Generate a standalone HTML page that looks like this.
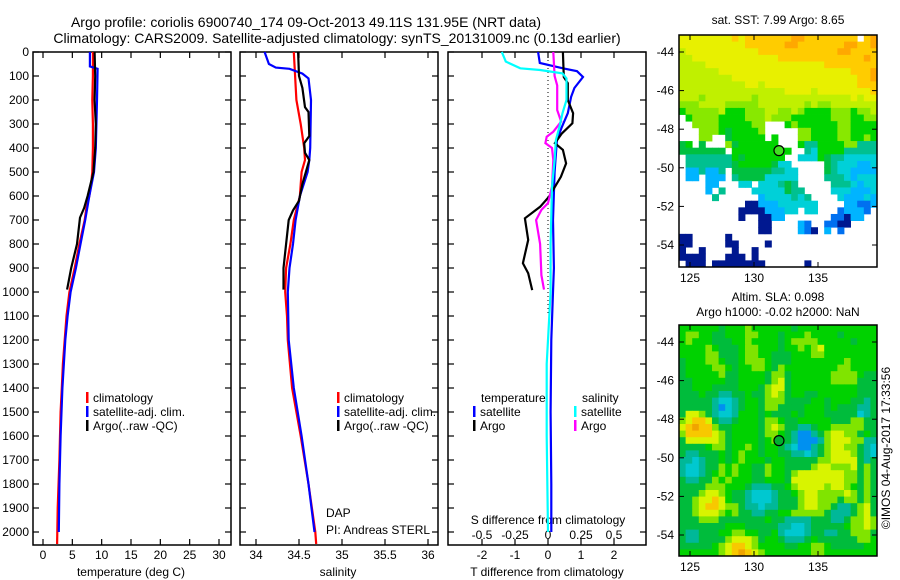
<!DOCTYPE html>
<html><head><meta charset="utf-8">
<style>
html,body{margin:0;padding:0;background:#fff;}
svg{display:block;font-family:"Liberation Sans",sans-serif;}
</style></head>
<body>
<svg id="fig" width="900" height="580" viewBox="0 0 900 580" xmlns="http://www.w3.org/2000/svg">
<text x="306" y="27" font-size="14" text-anchor="middle">Argo profile: coriolis 6900740_174 09-Oct-2013 49.11S 131.95E (NRT data)</text>
<text x="337" y="43" font-size="14" text-anchor="middle">Climatology: CARS2009. Satellite-adjusted climatology: synTS_20131009.nc (0.13d earlier)</text>
<text x="131" y="576" font-size="12" text-anchor="middle">temperature (deg C)</text>
<text x="338" y="576" font-size="12" text-anchor="middle">salinity</text>
<text x="547" y="576" font-size="12" text-anchor="middle">T difference from climatology</text>
<text x="548" y="524" font-size="12" text-anchor="middle">S difference from climatology</text>
<text x="326" y="517" font-size="12">DAP</text>
<text x="326" y="534" font-size="12">PI: Andreas STERL</text>
<text x="778" y="24" font-size="12" text-anchor="middle">sat. SST: 7.99 Argo: 8.65</text>
<text x="778" y="301" font-size="12" text-anchor="middle">Altim. SLA: 0.098</text>
<text x="778" y="316" font-size="12" text-anchor="middle">Argo h1000: -0.02 h2000: NaN</text>
<text x="0" y="0" font-size="12" text-anchor="middle" transform="translate(890,448) rotate(-90)">©IMOS 04-Aug-2017 17:33:56</text>
<g id="plots"></g>
</svg>
<script>
// ---------- data ----------
const depthTicks = [0,100,200,300,400,500,600,700,800,900,1000,1100,1200,1300,1400,1500,1600,1700,1800,1900,2000];
const tempTicks = [0,5,10,15,20,25,30];
const salTicks = [34,34.5,35,35.5,36];
const salTickLabels = ["34","34.5","35","35.5","36"];
const tdiffTicks = [-2,-1,0,1,2];
const sdiffTicks = [-0.5,-0.25,0,0.25,0.5];
const sdiffTickLabels = ["-0.5","-0.25","0","0.25","0.5"];

const tClimDepth = [0,100,200,300,400,500,550,600,650,700,800,900,1000,1100,1200,1300,1400,1500,1700,1900,2050];
const tClimVal   = [8.5,8.5,8.4,8.5,8.5,8.4,8.2,7.9,7.4,7.1,6.2,5.4,4.5,4.0,3.7,3.4,3.2,3.0,2.8,2.5,2.4];
const tSatDepth = [0,60,70,200,400,500,600,700,800,900,1000,1100,1200,1400,1600,1800,2000];
const tSatVal   = [8.0,8.0,9.3,9.2,9.0,8.7,7.9,7.2,6.4,5.6,4.7,4.2,3.8,3.3,3.0,2.8,2.7];
const tArgoDepth = [0,100,200,300,400,500,600,650,690,800,900,990];
const tArgoVal   = [8.8,8.9,8.8,9.0,8.9,8.6,7.6,7.0,6.3,5.8,4.8,4.1];

const sClimDepth = [0,200,300,400,450,500,600,700,800,900,1000,1100,1200,1400,1600,1800,2000,2050];
const sClimVal   = [34.44,34.47,34.52,34.56,34.57,34.53,34.51,34.44,34.40,34.35,34.34,34.36,34.37,34.42,34.52,34.61,34.69,34.70];
const sSatDepth = [0,50,65,70,90,110,200,400,450,500,600,700,800,900,1000,1200,1400,1600,1800,2000];
const sSatVal   = [34.10,34.15,34.23,34.39,34.54,34.61,34.64,34.63,34.62,34.60,34.51,34.46,34.43,34.39,34.37,34.38,34.44,34.53,34.61,34.68];
const sArgoDepth = [0,100,150,230,250,350,380,420,450,550,620,660,700,800,900,990];
const sArgoVal   = [34.49,34.50,34.54,34.57,34.61,34.62,34.56,34.57,34.62,34.54,34.50,34.43,34.38,34.35,34.32,34.32];

const dTSatDepth = [0,46,68,80,104,150,187,255,312,367,500,700,900,1000,1200,1500,1800,2000];
const dTSatVal   = [-0.3,-0.25,0.45,0.88,1.06,0.8,0.7,0.6,0.42,0.27,0.2,0.15,0.18,0.15,0.1,0.08,0.1,0.1];
const dTArgoDepth = [0,104,130,200,255,297,339,380,408,464,520,603,645,693,783,880,922,992];
const dTArgoVal   = [0.45,0.48,0.6,0.6,0.76,0.74,0.42,0.21,0.45,0.55,0.39,0.03,-0.24,-0.7,-0.6,-0.76,-0.6,-0.48];
const dSSatDepth = [0,40,68,75,89,110,200,255,304,367,450,561,800,1000,1300,1600,2000];
const dSSatVal   = [-0.35,-0.32,-0.21,-0.06,0.11,0.14,0.14,0.11,0.09,0.06,0.05,0.03,0.02,0.02,-0.01,-0.01,0.0];
const dSArgoDepth = [0,100,139,242,290,332,353,380,400,450,561,630,658,700,800,930,990];
const dSArgoVal   = [0.04,0.05,0.07,0.07,0.1,0.04,-0.01,-0.02,0.03,0.04,0.03,0.0,-0.05,-0.09,-0.06,-0.05,-0.03];

const sstLatTicks = [-44,-46,-48,-50,-52,-54];
const lonTicks = [125,130,135];
const argoLon = 131.95, argoLat = -49.11;

const sstGrid = [
"YYYYYYYYoYoooooooOOooooooooWoO",
"YYYYYYYYYYooooooOOoooooooOOooO",
"yYYYYYYYYYYYooooooooooooOOoooo",
"yyYYYYYYYYYYYYYoooooooooooooOo",
"yyyyYYYYYYYYYYYYYYYYYYoooooooo",
"yyyyyyYYYYYYYYYYYYYYYYYYYYoooO",
"yyyyyyyyYYYYYYYYYYYYYYYYYYYooO",
"yyyyyyyyyyYYyYYYYYYYYYYYYYYooo",
"yyyyyyyyyyyyyyyyYYYYyYYYYYYYYo",
"yyyLyyyyyyyLyyyyyyyyyyyyyyYyYY",
"LLLyyyyLLLLLyyyyyyyLyLLyyyyyyy",
"GLLLLLyGGGLLLyyLLyLGGGGLLLGLLy",
"WGLLLLGGGGLLLyLLLGGGGGGLLLGGLL",
"WWLLLLGGGGGLLWWWGLGGGGGGLLGGGG",
"WWWLLLGgGGGGLWWWWWLLGGGGLLGGGG",
"WWWLLWWgGGGGGWGWWWLLGGGGLLGGLG",
"gGWgWWWLgGGGGGGWWWGSSGGGGLLSSS",
"gggggggWGGGGGGGGGWWSCGGGGSSSSS",
"WSSSSSSSGgGGGGGGWWCCCGgSSCCCCC",
"WSSSSSSSgGGGGGgCCWWWWWgSCCCccC",
"WccSccSWggggggSSCCWWWWgSCCcccc",
"WccWcccWSggggCCCCCWWWWSSSCcCCC",
"WWWWccWWWCCWCCCSgSWWWWWSSSCcCC",
"WWWWcWSWWWWCCCCCgSSWWWWCCCcccC",
"WWWWWSWWWWWWcCCCCSCSWWWWCcccCc",
"WWWWWWWWWWNNcccCCCCCCWWWWccBBc",
"WWWWWWWWWNNNNcccCCWCCWWWBcccBW",
"WWWWWWWWWNWWNNccWWWWWWWBBNccWW",
"WWWWWWWWWWWWNNWWWWcBWWBBNNWWWW",
"WWWWWWWWWWWWNNWWWWcBNWcWBWWWWW",
"NNWWWWWNWWWWWWWWWWWWWWWWWWWWWW",
"NNWWWWWNNWWWWNWWWWWWWWWWWWWWWW",
"NWWNWWWWNWWNWWWWWWWWWWWWWWWWWW",
"NNNNWWWNNNWNWWWWWWWWWWWWWWWWWW",
"WNNNWNNNNNNNNWWWWWWNWWWWWWWWWW"];
const slaGrid = [
"GGGGGGgGGGLGGGGGGgGGGGGGGGGGGG",
"GLLGGggGGGLLGGGgGGGLGGGGgGGGGG",
"GLGGGgggGGLGGGGgGLLLLGGGGGgGGG",
"GGGGLGgggGLLGGGgGGLGLYGGGGGGGG",
"GGGGLLgggGLLGGgggGGGLLGGGGGGGG",
"gGGGLLGggGLLLGgggGGGGGGGGLGGGG",
"gGGGGLLGgGGLLGgLGGGGGGGGLLGGGG",
"gGGGGGLggGGGGgLLgGGGGGGLLLLGgg",
"ggGGGGGggGGGGgLYgGGGGGGLLLLggg",
"ggGGGggggGGGgLYYgGGGGGGGGGGggg",
"gggGggTTggGggLYLgGGggGGGGGGggg",
"gggggTCCTgGGgLLLggggGGgGGGggTg",
"gggggTcCTgGGgLLggggGGGgGgggTTg",
"gYYLgTCCTGGGgGgggGgGGGgggggCTg",
"LYooYgTTgGGGgLLGggGGGGGgggLLgg",
"YoOooLggGGGGgLYLggTTgGGLLLLLgg",
"LooooYLgGGGGgLLGgTccTgLYYLLgGg",
"gYYYYYLgGGGGgGLGgTcccTLYYYLLTT",
"ggggGLLgGGLGgGGgTCccTgLYYLLgTC",
"gTTgggGgGLGGgGGggTTCTgLYYYLgTC",
"TTCTggGgGLGGGgGGgggggLLYYYYgTg",
"TCCTggLGLGGggLGGggggLYYLLLYgLg",
"TCCTgGLGLGGggLGGgLYYYYYYYLLgLg",
"gTTggLGLGGGggGGGgYYYYYYYYLLgLg",
"ggggLLLGGGgTTTggGLYYYYLYYLGgLg",
"gggLYYLGggTCCCTggGLYYLLLLYLgLg",
"ggLYYoYGggTCCCTgggLYYLLLgLLgLg",
"ggLYooYLLgTTCTTgggLYYLLgTTgLYg",
"ggLYYYLGLggTTggGGLLLLLgTTTgLYg",
"gggLLLgggggggGggTTTTgggTTgLLYL",
"gggggggGGGgggggTTCCTgggggGLLYL",
"gTTgggGGLLGGggGTCCCTggTTggLLLg",
"gTTggggLYYYLgGGgTTTgGggggggLLG",
"gggggGLYooYLGGGGggGGLLGgggggGG",
"GGGGGGLYoOoYLGGGGGGGLLGGGGGGGG"];
const sstColors = {W:"#ffffff",O:"#ffa800",o:"#ffcc00",Y:"#e8f000",y:"#c0f000",L:"#88e800",G:"#00d400",g:"#00c040",S:"#00c090",C:"#00d0d8",c:"#00b4ff",B:"#0070f0",N:"#001890"};
const slaColors = {G:"#00d200",g:"#00bc3c",L:"#80e400",Y:"#d8f400",o:"#f8c800",O:"#f0a400",T:"#00b898",C:"#00c8d0",c:"#0090f0"};

// ---------- helpers ----------
const NS="http://www.w3.org/2000/svg";
const root=document.getElementById('plots');
function mk(tag,attrs,parent){const e=document.createElementNS(NS,tag);for(const k in attrs)e.setAttribute(k,attrs[k]);(parent||root).appendChild(e);return e;}
const top0=52, bot0=545;
function yD(d){return top0 + d*0.24;}
function linScale(v0,p0,v1,p1){return v=>p0+(v-v0)*(p1-p0)/(v1-v0);}
const xT=linScale(0,43,30,219);
const xS=linScale(34,256,36,428);
const xDT=linScale(0,548,2,614);
const xDS=linScale(0,548,0.5,614);

function frame(x0,x1,name){
  const r=mk('rect',{x:x0,y:top0,width:x1-x0,height:bot0-top0,fill:'none',stroke:'#000','stroke-width':1.5});
  
  
  depthTicks.forEach(d=>{
    const y=yD(d);
    const t1=mk('line',{x1:x0,x2:x0+6,y1:y,y2:y,stroke:'#000','stroke-width':1.2});
    
    
    const t2=mk('line',{x1:x1-6,x2:x1,y1:y,y2:y,stroke:'#000','stroke-width':1.2});
    
    
  });
}
function xTicks(vals,labels,sc,yLab,tickBottom){
  vals.forEach((v,i)=>{
    const x=sc(v);
    const a=mk('line',{x1:x,x2:x,y1:bot0-6,y2:bot0,stroke:'#000','stroke-width':1.2});
    
    
    if(tickBottom){
      const b=mk('line',{x1:x,x2:x,y1:top0,y2:top0+6,stroke:'#000','stroke-width':1.2});
      
      
    }
    const t=mk('text',{x:x,y:yLab,'font-size':12,'text-anchor':'middle'});
    t.textContent=labels[i];
    
    
  });
}
function series(depths,vals,sc,color,name,w){
  const pts=depths.map((d,i)=>sc(vals[i]).toFixed(1)+','+yD(d).toFixed(1)).join(' ');
  const p=mk('polyline',{points:pts,fill:'none',stroke:color,'stroke-width':w||2.2,'stroke-linejoin':'miter'});
  
  
}
function legend(x,y,color,label,name){
  const b=mk('rect',{x:x,y:y-10,width:2.5,height:11,fill:color});
  
  
  const t=mk('text',{x:x+7,y:y,'font-size':12});
  t.textContent=label;
  
  
}

// depth labels
depthTicks.forEach(d=>{
  const t=mk('text',{x:29,y:yD(d)+4,'font-size':12,'text-anchor':'end'});
  t.textContent=String(d);
  
  
});

// panel 1 temperature
frame(33,231,'temperature-panel');
xTicks(tempTicks,tempTicks.map(String),xT,559,true);
series(tClimDepth,tClimVal,xT,'#ff0000','temperature-climatology-line');
series(tSatDepth,tSatVal,xT,'#0000ff','temperature-satellite-line');
series(tArgoDepth,tArgoVal,xT,'#000000','temperature-argo-line');
legend(86,402,'#ff0000','climatology','legend-climatology-t');
legend(86,416,'#0000ff','satellite-adj. clim.','legend-satellite-t');
legend(86,430,'#000000','Argo(..raw -QC)','legend-argo-t');

// panel 2 salinity
frame(240,438,'salinity-panel');
xTicks(salTicks,salTickLabels,xS,559,true);
series(sClimDepth,sClimVal,xS,'#ff0000','salinity-climatology-line');
series(sSatDepth,sSatVal,xS,'#0000ff','salinity-satellite-line');
series(sArgoDepth,sArgoVal,xS,'#000000','salinity-argo-line');
legend(337,402,'#ff0000','climatology','legend-climatology-s');
legend(337,416,'#0000ff','satellite-adj. clim.','legend-satellite-s');
legend(337,430,'#000000','Argo(..raw -QC)','legend-argo-s');

// panel 3 differences
frame(448,646,'difference-panel');
xTicks(tdiffTicks,tdiffTicks.map(String),xDT,559,true);
sdiffTicks.forEach((v,i)=>{
  const t=mk('text',{x:xDS(v),y:539,'font-size':12,'text-anchor':'middle'});
  t.textContent=sdiffTickLabels[i];
  
  
});
const zl=mk('line',{x1:xDT(0),x2:xDT(0),y1:top0,y2:yD(1100),stroke:'#000','stroke-width':1,'stroke-dasharray':'1,3'});


series(dTSatDepth,dTSatVal,xDT,'#0000ff','t-diff-satellite-line');
series(dTArgoDepth,dTArgoVal,xDT,'#000000','t-diff-argo-line');
series(dSArgoDepth,dSArgoVal,xDS,'#ff00ff','s-diff-argo-line');
series(dSSatDepth,dSSatVal,xDS,'#00ffff','s-diff-satellite-line');
(function(){
  const t1=mk('text',{x:481,y:402,'font-size':12});t1.textContent='temperature';
  
  
  const t2=mk('text',{x:582,y:402,'font-size':12});t2.textContent='salinity';
  
  
})();
legend(473,416,'#0000ff','satellite','legend-t-satellite');
legend(473,430,'#000000','Argo','legend-t-argo');
legend(574,416,'#00ffff','satellite','legend-s-satellite');
legend(574,430,'#ff00ff','Argo','legend-s-argo');

// ---------- maps ----------
function drawMap(grid,colors,x0,y0,x1,y1,latTicks,latY0,latY1,name){
  const g=mk('g',{});
  
  
  const rows=grid.length, cols=grid[0].length;
  const cw=(x1-x0)/cols, ch=(y1-y0)/rows;
  grid.forEach((row,r)=>{
    for(let c=0;c<cols;c++){
      const col=colors[row[c]]||'#fff';
      if(col==='#ffffff')continue;
      const cell=mk('rect',{x:(x0+c*cw).toFixed(2),y:(y0+r*ch).toFixed(2),width:(cw+0.4).toFixed(2),height:(ch+0.4).toFixed(2),fill:col},g);
      
      
    }
  });
  const fr=mk('rect',{x:x0,y:y0,width:x1-x0,height:y1-y0,fill:'none',stroke:'#000','stroke-width':1.5});
  
  
  const latSc=linScale(latTicks[0],latY0,latTicks[latTicks.length-1],latY1);
  latTicks.forEach(v=>{
    const y=latSc(v);
    const a=mk('line',{x1:x0,x2:x0+5,y1:y,y2:y,stroke:'#000'});
    
    
    const b=mk('line',{x1:x1-5,x2:x1,y1:y,y2:y,stroke:'#000'});
    
    
    const t=mk('text',{x:x0-5,y:y+4,'font-size':12,'text-anchor':'end'});
    t.textContent=String(v);
    
    
  });
  const lonSc=linScale(125,690,135,818);
  lonTicks.forEach(v=>{
    const x=lonSc(v);
    const a=mk('line',{x1:x,x2:x,y1:y0,y2:y0+5,stroke:'#000'});
    
    
    const b=mk('line',{x1:x,x2:x,y1:y1-5,y2:y1,stroke:'#000'});
    
    
    const t=mk('text',{x:x,y:y1+15,'font-size':12,'text-anchor':'middle'});
    t.textContent=String(v);
    
    
  });
  const m=mk('circle',{cx:lonSc(argoLon),cy:latSc(argoLat),r:5,fill:name==='sst-map'?'#40e020':'#00b030',stroke:'#000','stroke-width':1.2});
  
  
}
drawMap(sstGrid,sstColors,679,35,877,267,sstLatTicks,52,245,'sst-map');
drawMap(slaGrid,slaColors,679,325,877,556,sstLatTicks,342,535,'sla-map');
</script>
</body></html>
